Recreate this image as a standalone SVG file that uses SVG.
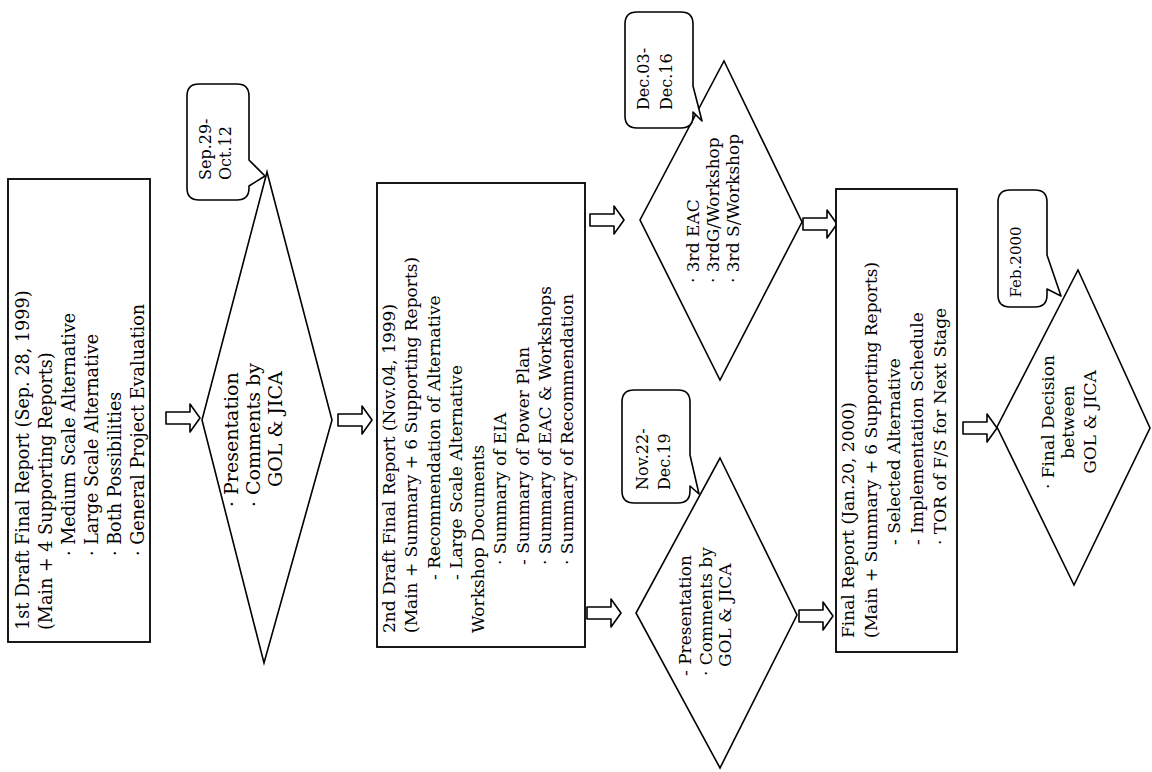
<svg xmlns="http://www.w3.org/2000/svg" width="1152" height="772" viewBox="0 0 1152 772">
<style>
.box{fill:#fff;stroke:#000;stroke-width:1.8}
.dia{fill:#fff;stroke:#000;stroke-width:1.6}
.call{fill:#fff;stroke:#000;stroke-width:1.6;stroke-linejoin:round}
.arr{fill:#fff;stroke:#000;stroke-width:1.6;stroke-linejoin:round}
text{font-family:"DejaVu Serif","Liberation Serif",serif;fill:#000}
.t{font-size:17px}
.tb{font-size:17.6px}
.td{font-size:19px}
.c{font-size:16px}
.cf{font-size:15px}
.m{text-anchor:middle}
</style>
<rect width="1152" height="772" fill="#fff"/>
<g id="connectors">
<path class="arr" d="M166,412 H190 V404 L200,418 L190,432 V424 H166 Z"/>
<path class="arr" d="M338,414 H362 V406 L372,420 L362,434 V426 H338 Z"/>
<path class="arr" d="M590,214 H614 V206 L624,220 L614,234 V226 H590 Z"/>
<path class="arr" d="M587,607 H611 V599 L621,613 L611,627 V619 H587 Z"/>
<path class="arr" d="M803,218 H827 V210 L837,224 L827,238 V230 H803 Z"/>
<path class="arr" d="M799,610 H823 V602 L833,616 L823,630 V622 H799 Z"/>
<path class="arr" d="M963,422 H987 V414 L997,428 L987,442 V434 H963 Z"/>
</g>
<g id="report1">
<rect class="box" x="8" y="179" width="142" height="463"/>
<g transform="rotate(-90)" class="tb">
<text x="-630" y="29">1st Draft Final Report (Sep. 28, 1999)</text>
<text x="-630" y="52">(Main + 4 Supporting Reports)</text>
<text x="-556" y="75">· Medium Scale Alternative</text>
<text x="-556" y="98">· Large Scale Alternative</text>
<text x="-556" y="121">· Both Possibilities</text>
<text x="-556" y="144">· General Project Evaluation</text>
</g>
</g>
<g id="review1">
<polygon class="dia" points="267,172 332,420 264,663 202,420"/>
<g transform="rotate(-90)" class="td">
<text x="-507" y="238">· Presentation</text>
<text x="-507" y="260">· Comments by</text>
<text x="-487" y="282">GOL &amp; JICA</text>
</g>
</g>
<g id="callout1">
<path class="call" d="M199,84 H237 Q249,84 249,96 V160 L265,176 L249,186 V188 Q249,200 237,200 H199 Q187,200 187,188 V96 Q187,84 199,84 Z"/>
<g transform="rotate(-90)" class="c">
<text x="-180" y="211">Sep.29-</text>
<text x="-180" y="231">Oct.12</text>
</g>
</g>
<g id="report2">
<rect class="box" x="377" y="183" width="208" height="464"/>
<g transform="rotate(-90)" class="t">
<text x="-633" y="395">2nd Draft Final Report (Nov.04, 1999)</text>
<text x="-633" y="417">(Main + Summary + 6 Supporting Reports)</text>
<text x="-580" y="440">- Recommendation of Alternative</text>
<text x="-580" y="462">- Large Scale Alternative</text>
<text x="-633" y="484">Workshop Documents</text>
<text x="-565" y="506">· Summary of EIA</text>
<text x="-565" y="529">- Summary of Power Plan</text>
<text x="-565" y="551">· Summary of EAC &amp; Workshops</text>
<text x="-565" y="573">· Summary of Recommendation</text>
</g>
</g>
<g id="workshop3">
<polygon class="dia" points="724,61 802,222 720,380 640,220"/>
<g transform="rotate(-90)" class="t">
<text x="-283" y="699">· 3rd EAC</text>
<text x="-283" y="719">· 3rdG/Workshop</text>
<text x="-283" y="739">· 3rd S/Workshop</text>
</g>
</g>
<g id="callout3">
<path class="call" d="M637,12 H681 Q693,12 693,24 V86 L702,121 L693,112 V116 Q693,128 681,128 H637 Q625,128 625,116 V24 Q625,12 637,12 Z"/>
<g transform="rotate(-90)" class="c">
<text x="-110" y="649">Dec.03-</text>
<text x="-110" y="672">Dec.16</text>
</g>
</g>
<g id="review2">
<polygon class="dia" points="720,458 797,615 720,768 636,613"/>
<g transform="rotate(-90)" class="t">
<text x="-676" y="691">- Presentation</text>
<text x="-676" y="712">· Comments by</text>
<text x="-667" y="731">GOL &amp; JICA</text>
</g>
</g>
<g id="callout2">
<path class="call" d="M634,390 H678 Q690,390 690,402 V455 L699,494 L690,486 V491 Q690,503 678,503 H634 Q622,503 622,491 V402 Q622,390 634,390 Z"/>
<g transform="rotate(-90)" class="c">
<text x="-490" y="648">Nov.22-</text>
<text x="-490" y="670">Dec.19</text>
</g>
</g>
<g id="report3">
<rect class="box" x="836" y="189" width="121" height="463"/>
<g transform="rotate(-90)" class="t">
<text x="-638" y="854">Final Report (Jan.20, 2000)</text>
<text x="-638" y="877">(Main + Summary + 6 Supporting Reports)</text>
<text x="-545" y="900">- Selected Alternative</text>
<text x="-545" y="923">- Implementation Schedule</text>
<text x="-545" y="946">· TOR of F/S for Next Stage</text>
</g>
</g>
<g id="decision">
<polygon class="dia" points="1078,270 1150,428 1074,585 997,427"/>
<g transform="rotate(-90)" class="t m">
<text x="-422" y="1054">· Final Decision</text>
<text x="-422" y="1074">between</text>
<text x="-422" y="1096">GOL &amp; JICA</text>
</g>
</g>
<g id="callout4">
<path class="call" d="M1010,190 H1035 Q1047,190 1047,202 V255 L1061,296 L1047,289 V295 Q1047,307 1035,307 H1010 Q998,307 998,295 V202 Q998,190 1010,190 Z"/>
<g transform="rotate(-90)" class="cf m">
<text x="-262" y="1021">Feb.2000</text>
</g>
</g>
</svg>
